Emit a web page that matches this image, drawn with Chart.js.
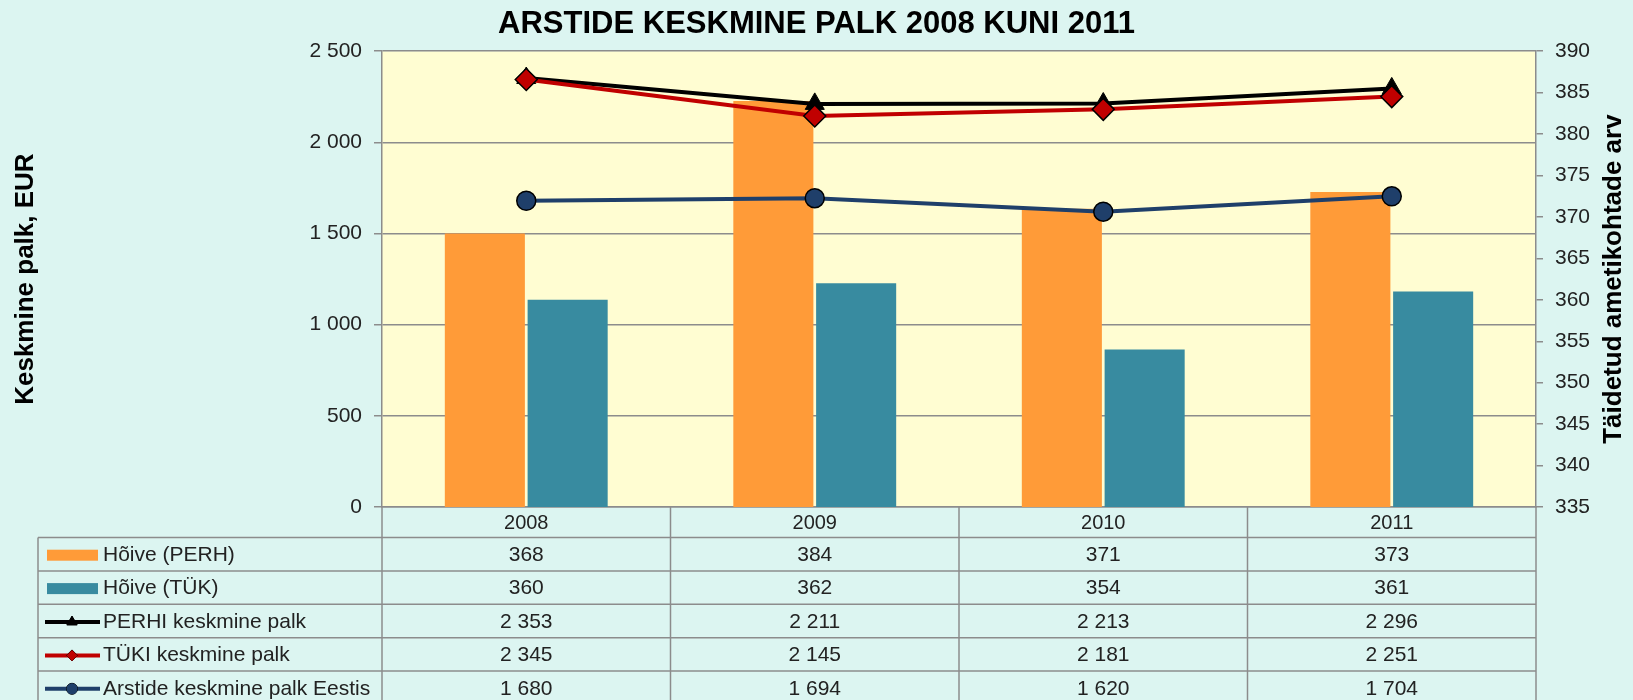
<!DOCTYPE html>
<html>
<head>
<meta charset="utf-8">
<title>Arstide keskmine palk 2008 kuni 2011</title>
<script src="https://cdn.jsdelivr.net/npm/chart.js@4/dist/chart.umd.min.js"></script>
<style>
  html, body { margin: 0; padding: 0; background: #dcf5f1; overflow: hidden; }
  canvas { display: block; }
</style>
</head>
<body>
<canvas id="palkChart" width="1633" height="700"></canvas>
<script>
// data
const years = ['2008', '2009', '2010', '2011'];
const hoivePerh = [368, 384, 371, 373];
const hoiveTuk = [360, 362, 354, 361];
const perhiPalk = [2353, 2211, 2213, 2296];
const tukiPalk = [2345, 2145, 2181, 2251];
const eestiPalk = [1680, 1694, 1620, 1704];

const palkMin = 0, palkMax = 2500, palkStep = 500;
const kohadMin = 335, kohadMax = 390, kohadStep = 5;

const gridColor = '#8c8c8c';
const textColor = '#222';
const fontFamily = '"Liberation Sans", Arial, sans-serif';

Chart.defaults.font.family = fontFamily;

// 2500 -> "2 500"
function fmt(v) {
  return String(v).replace(/\B(?=(\d{3})+(?!\d))/g, ' ');
}

// rows of the data table under the chart, same order as in the reference
const tableRows = [
  { label: 'Hõive (PERH)', values: hoivePerh, kind: 'bar', color: '#ff9b38' },
  { label: 'Hõive (TÜK)', values: hoiveTuk, kind: 'bar', color: '#388ba0' },
  { label: 'PERHI keskmine palk', values: perhiPalk, kind: 'line', color: '#000000', point: 'triangle', r: 6 },
  { label: 'TÜKI keskmine palk', values: tukiPalk, kind: 'line', color: '#c00000', point: 'rectRot', r: 5.5 },
  { label: 'Arstide keskmine palk Eestis', values: eestiPalk, kind: 'line', color: '#1f3f6a', point: 'circle', r: 5.5 }
];

const tablePlugin = {
  id: 'dataTable',
  beforeDraw(chart) {
    const { ctx, chartArea: a } = chart;
    ctx.save();
    ctx.fillStyle = '#fffdd2';
    ctx.fillRect(a.left, a.top, a.right - a.left, a.bottom - a.top);
    ctx.restore();
  },
  afterDraw(chart) {
    const { ctx, chartArea: a } = chart;
    const xScale = chart.scales.x;
    const colW = (a.right - a.left) / years.length;
    const tableLeft = 38;
    const rowTop = a.bottom + 30.5;
    const rowH = 33.4;
    const bottom = chart.height;

    ctx.save();

    // right axis title, reads bottom to top like the left one
    ctx.save();
    ctx.translate(1614, (a.top + a.bottom) / 2);
    ctx.rotate(-Math.PI / 2);
    ctx.font = 'bold 26px ' + fontFamily;
    ctx.fillStyle = '#000';
    ctx.textAlign = 'center';
    ctx.textBaseline = 'middle';
    ctx.fillText('Täidetud ametikohtade arv', 0, 0);
    ctx.restore();

    ctx.strokeStyle = gridColor;
    ctx.lineWidth = 1.5;

    // horizontal lines
    for (let i = 0; i <= tableRows.length; i++) {
      const y = rowTop + i * rowH;
      ctx.beginPath();
      ctx.moveTo(tableLeft, y);
      ctx.lineTo(a.right, y);
      ctx.stroke();
    }
    // vertical lines
    ctx.beginPath();
    ctx.moveTo(tableLeft, rowTop);
    ctx.lineTo(tableLeft, bottom);
    ctx.stroke();
    for (let i = 0; i <= years.length; i++) {
      const x = a.left + i * colW;
      ctx.beginPath();
      ctx.moveTo(x, a.bottom);
      ctx.lineTo(x, bottom);
      ctx.stroke();
    }

    ctx.font = '21px ' + fontFamily;
    ctx.textBaseline = 'middle';

    tableRows.forEach((row, r) => {
      const cy = rowTop + (r + 0.5) * rowH + 1;

      // legend key
      if (row.kind === 'bar') {
        ctx.fillStyle = row.color;
        ctx.fillRect(47, cy - 5.5, 51, 11);
      } else {
        ctx.strokeStyle = row.color;
        ctx.lineWidth = 4;
        ctx.beginPath();
        ctx.moveTo(45, cy);
        ctx.lineTo(100, cy);
        ctx.stroke();
        ctx.fillStyle = row.color;
        ctx.strokeStyle = '#000';
        ctx.lineWidth = 1;
        Chart.helpers.drawPoint(ctx, { pointStyle: row.point, radius: row.r, rotation: 0, borderWidth: 1 }, 72, cy);
        ctx.fill();
      }

      ctx.fillStyle = textColor;
      ctx.textAlign = 'left';
      ctx.fillText(row.label, 103, cy);

      ctx.textAlign = 'center';
      row.values.forEach((v, i) => {
        ctx.fillText(fmt(v), xScale.getPixelForValue(i), cy);
      });
    });
    ctx.restore();
  }
};

new Chart(document.getElementById('palkChart'), {
  type: 'bar',
  data: {
    labels: years,
    datasets: [
      {
        label: 'Hõive (PERH)',
        data: hoivePerh,
        yAxisID: 'y2',
        backgroundColor: '#ff9b38',
        categoryPercentage: 0.574,
        barPercentage: 0.967,
        order: 4
      },
      {
        label: 'Hõive (TÜK)',
        data: hoiveTuk,
        yAxisID: 'y2',
        backgroundColor: '#388ba0',
        categoryPercentage: 0.574,
        barPercentage: 0.967,
        order: 5
      },
      {
        type: 'line',
        label: 'PERHI keskmine palk',
        data: perhiPalk,
        yAxisID: 'y',
        borderColor: '#000',
        backgroundColor: '#000',
        borderWidth: 4,
        tension: 0,
        pointStyle: 'triangle',
        pointRadius: 11,
        pointBorderColor: '#000',
        pointBorderWidth: 1,
        order: 3
      },
      {
        type: 'line',
        label: 'TÜKI keskmine palk',
        data: tukiPalk,
        yAxisID: 'y',
        borderColor: '#c00000',
        backgroundColor: '#c00000',
        borderWidth: 4,
        tension: 0,
        pointStyle: 'rectRot',
        pointRadius: 11,
        pointBorderColor: '#000',
        pointBorderWidth: 1.5,
        order: 2
      },
      {
        type: 'line',
        label: 'Arstide keskmine palk Eestis',
        data: eestiPalk,
        yAxisID: 'y',
        borderColor: '#1f3f6a',
        backgroundColor: '#1f3f6a',
        borderWidth: 4,
        tension: 0,
        pointStyle: 'circle',
        pointRadius: 9.5,
        pointBorderColor: '#000',
        pointBorderWidth: 1.5,
        order: 1
      }
    ]
  },
  options: {
    responsive: false,
    animation: false,
    layout: { padding: { left: 0, right: 0, top: 0, bottom: 163 } },
    plugins: {
      legend: { display: false },
      tooltip: { enabled: false },
      title: {
        display: true,
        text: 'ARSTIDE KESKMINE PALK 2008 KUNI 2011',
        color: '#000',
        font: { size: 31, weight: 'bold' },
        padding: { top: 6, bottom: 8 }
      }
    },
    scales: {
      x: {
        grid: { display: false, drawTicks: false },
        border: { display: true, color: gridColor, width: 1.5 },
        ticks: { color: textColor, font: { size: 20 }, padding: 4, maxRotation: 0 },
        afterFit(s) { s.height = 30; }
      },
      y: {
        position: 'left',
        min: palkMin,
        max: palkMax,
        ticks: {
          stepSize: palkStep,
          color: textColor,
          font: { size: 21 },
          padding: 12,
          callback: v => fmt(v)
        },
        grid: { color: gridColor, lineWidth: 1.5, tickLength: 8 },
        border: { color: gridColor, width: 1.5 },
        title: {
          display: true,
          text: 'Keskmine palk, EUR',
          color: '#000',
          font: { size: 26, weight: 'bold' },
          padding: { top: 10, bottom: 0 }
        },
        afterFit(s) { s.width = 382; }
      },
      y2: {
        position: 'right',
        min: kohadMin,
        max: kohadMax,
        ticks: {
          stepSize: kohadStep,
          color: textColor,
          font: { size: 21 },
          padding: 12
        },
        grid: { drawOnChartArea: false, color: gridColor, lineWidth: 1.5, tickLength: 7 },
        border: { color: gridColor, width: 1.5 },
        afterFit(s) { s.width = 97; }
      }
    }
  },
  plugins: [tablePlugin]
});
</script>
</body>
</html>
